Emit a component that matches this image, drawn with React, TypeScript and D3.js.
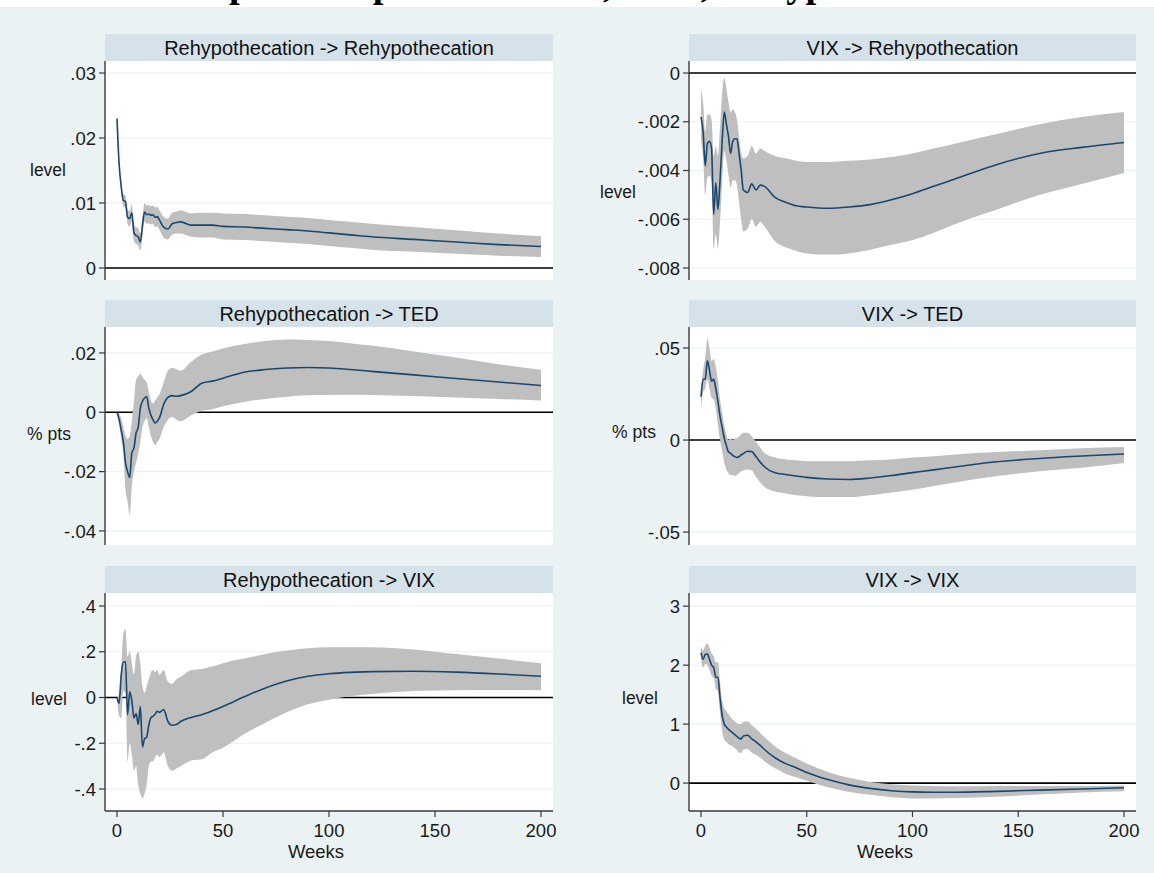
import React from "react";
import * as d3 from "d3";

// forecast horizon (weeks)
const weeks = [0, 1, 2, 3, 4, 5, 6, 7, 8, 9, 10, 11, 12, 13, 14, 15, 16, 17, 18, 19, 20,
  22, 24, 26, 28, 30, 35, 40, 45, 50, 60, 70, 80, 90, 100, 110, 120, 140, 160, 180, 200];
const xTicks = [0, 50, 100, 150, 200];

// Rehypothecation -> Rehypothecation
const rrIrf = [0.023, 0.016, 0.0125, 0.0104, 0.0102, 0.0078, 0.0076, 0.0085, 0.0054, 0.005, 0.0048, 0.004, 0.0065, 0.0086, 0.0082, 0.0083, 0.0081, 0.0082, 0.0078, 0.0079, 0.0074,
  0.0063, 0.006, 0.0068, 0.007, 0.0071, 0.0066, 0.0066, 0.0066, 0.0064, 0.0063, 0.0061, 0.0059, 0.0057, 0.0054, 0.0051, 0.0048, 0.0044, 0.004, 0.0036, 0.0033];
const rrHi = [0.0232, 0.0165, 0.0132, 0.0113, 0.0112, 0.0089, 0.0088, 0.0098, 0.0067, 0.0063, 0.0061, 0.0053, 0.0079, 0.01, 0.0096, 0.0097, 0.0095, 0.0096, 0.0093, 0.0094, 0.0089,
  0.0079, 0.0076, 0.0085, 0.0087, 0.0089, 0.0084, 0.0085, 0.0085, 0.0084, 0.0083, 0.0081, 0.0079, 0.0077, 0.0074, 0.0071, 0.0068, 0.0063, 0.0058, 0.0053, 0.0049];
const rrLo = [0.0228, 0.0155, 0.0118, 0.0095, 0.0092, 0.0067, 0.0064, 0.0072, 0.0041, 0.0037, 0.0035, 0.0027, 0.0051, 0.0072, 0.0068, 0.0069, 0.0067, 0.0068, 0.0063, 0.0064, 0.0059,
  0.0047, 0.0044, 0.0051, 0.0053, 0.0053, 0.0048, 0.0047, 0.0047, 0.0044, 0.0043, 0.0041, 0.0039, 0.0037, 0.0034, 0.0031, 0.0028, 0.0025, 0.0022, 0.0019, 0.0017];
const rrTicks = [0, 0.01, 0.02, 0.03];

// VIX -> Rehypothecation
const vrIrf = [-0.0018, -0.0024, -0.0038, -0.0029, -0.0028, -0.0031, -0.0058, -0.0045, -0.0056, -0.0044, -0.0028, -0.0016, -0.0021, -0.0026, -0.0033, -0.0028, -0.0027, -0.0027, -0.0033, -0.004, -0.0048,
  -0.0049, -0.00455, -0.0048, -0.0046, -0.00465, -0.0051, -0.0053, -0.00545, -0.0055, -0.00555, -0.0055, -0.0054, -0.0052, -0.00495, -0.00465, -0.00435, -0.00375, -0.0033, -0.00305, -0.00285];
const vrHi = [-0.0007, -0.0012, -0.0024, -0.0017, -0.0017, -0.0019, -0.0034, -0.003, -0.0034, -0.0022, -0.0008, -0.0002, -0.0006, -0.0012, -0.0016, -0.0015, -0.0016, -0.0019, -0.0026, -0.0033, -0.0035,
  -0.0034, -0.003, -0.0033, -0.0031, -0.0032, -0.0034, -0.0035, -0.0036, -0.00365, -0.00365, -0.0036, -0.00355, -0.00345, -0.0033, -0.0031, -0.0029, -0.0025, -0.0021, -0.0018, -0.0016];
const vrLo = [-0.0028, -0.0035, -0.005, -0.0043, -0.0042, -0.0045, -0.0072, -0.0066, -0.0072, -0.0061, -0.0045, -0.0032, -0.0036, -0.0042, -0.0047, -0.0044, -0.0044, -0.0046, -0.0053, -0.006, -0.0065,
  -0.0064, -0.006, -0.0063, -0.0061, -0.0063, -0.0069, -0.00715, -0.0073, -0.0074, -0.00745, -0.0074, -0.00725, -0.00705, -0.00685, -0.00655, -0.0062, -0.0056, -0.005, -0.00455, -0.0041];
const vrTicks = [-0.008, -0.006, -0.004, -0.002, 0];

// Rehypothecation -> TED
const rtIrf = [0, -0.0024, -0.006, -0.01, -0.017, -0.02, -0.022, -0.0136, -0.012, -0.007, -0.005, 0.0014, 0.0037, 0.0048, 0.0053, 0.0015, -0.001, -0.0025, -0.0036, -0.003, -0.0019,
  0.0026, 0.005, 0.0056, 0.0054, 0.0056, 0.007, 0.0098, 0.0105, 0.0115, 0.0135, 0.0144, 0.0149, 0.0151, 0.0149, 0.0144, 0.0138, 0.0126, 0.0114, 0.0102, 0.009];
const rtHi = [0, -0.0005, -0.002, -0.005, -0.008, -0.009, -0.008, -0.003, 0.004, 0.011, 0.012, 0.013, 0.012, 0.011, 0.01, 0.007, 0.004, 0.003, 0.004, 0.005, 0.006,
  0.01, 0.014, 0.015, 0.0145, 0.014, 0.017, 0.0195, 0.0205, 0.0215, 0.023, 0.024, 0.0245, 0.0244, 0.024, 0.0233, 0.0225, 0.0205, 0.0185, 0.0162, 0.0143];
const rtLo = [0, -0.004, -0.009, -0.014, -0.026, -0.03, -0.0345, -0.025, -0.02, -0.017, -0.014, -0.01, -0.005, -0.003, -0.002, -0.005, -0.008, -0.01, -0.011, -0.01, -0.009,
  -0.005, -0.0025, -0.0015, -0.0025, -0.003, -0.001, 0.0005, 0.001, 0.002, 0.0035, 0.0045, 0.0052, 0.0057, 0.0058, 0.0059, 0.0058, 0.0055, 0.005, 0.0045, 0.004];
const rtTicks = [-0.04, -0.02, 0, 0.02];

// VIX -> TED
const vtIrf = [0.0235, 0.033, 0.033, 0.043, 0.038, 0.032, 0.033, 0.028, 0.021, 0.013, 0.007, 0.001, -0.003, -0.0065, -0.0072, -0.0083, -0.009, -0.0095, -0.009, -0.0081, -0.0073,
  -0.0061, -0.0063, -0.009, -0.012, -0.0145, -0.0178, -0.0187, -0.0195, -0.0203, -0.0212, -0.0214, -0.0206, -0.0193, -0.0177, -0.0162, -0.0146, -0.0118, -0.01, -0.0087, -0.0076];
const vtHi = [0.028, 0.038, 0.045, 0.055, 0.05, 0.043, 0.044, 0.04, 0.032, 0.022, 0.015, 0.008, 0.003, 0, 0.001, 0, 0.001, 0.001, 0.002, 0.003, 0.004,
  0.004, 0.002, -0.001, -0.004, -0.007, -0.0095, -0.0105, -0.011, -0.0115, -0.0115, -0.0115, -0.011, -0.0105, -0.0095, -0.0088, -0.0078, -0.0065, -0.0055, -0.0045, -0.0038];
const vtLo = [0.017, 0.026, 0.028, 0.033, 0.028, 0.023, 0.022, 0.017, 0.008, 0, -0.006, -0.012, -0.016, -0.018, -0.019, -0.019, -0.0195, -0.019, -0.018, -0.017, -0.0165,
  -0.016, -0.0165, -0.02, -0.023, -0.0255, -0.028, -0.029, -0.03, -0.0305, -0.031, -0.031, -0.03, -0.0285, -0.027, -0.025, -0.023, -0.0195, -0.017, -0.015, -0.0125];
const vtTicks = [-0.05, 0, 0.05];

// Rehypothecation -> VIX
const rvIrf = [0, -0.025, 0.1, 0.155, 0.156, -0.075, 0.025, -0.015, -0.09, -0.07, -0.118, -0.04, -0.216, -0.18, -0.173, -0.12, -0.089, -0.082, -0.072, -0.06, -0.065,
  -0.053, -0.104, -0.121, -0.118, -0.105, -0.087, -0.075, -0.058, -0.039, 0.003, 0.042, 0.072, 0.093, 0.104, 0.11, 0.113, 0.115, 0.111, 0.103, 0.093];
const rvHi = [0, 0.02, 0.13, 0.28, 0.3, 0.18, 0.2, 0.15, 0.1, 0.18, 0.2, 0.15, 0.05, 0.02, 0.05, 0.08, 0.11, 0.12, 0.11, 0.12, 0.1,
  0.12, 0.07, 0.06, 0.08, 0.09, 0.12, 0.125, 0.135, 0.15, 0.17, 0.19, 0.205, 0.215, 0.22, 0.22, 0.22, 0.21, 0.19, 0.17, 0.15];
const rvLo = [0, -0.08, -0.09, 0.03, 0.02, -0.28, -0.2, -0.25, -0.32, -0.3, -0.38, -0.42, -0.44, -0.42, -0.38, -0.3, -0.28, -0.28, -0.26, -0.25, -0.26,
  -0.24, -0.3, -0.32, -0.31, -0.3, -0.275, -0.27, -0.24, -0.22, -0.16, -0.11, -0.065, -0.03, -0.01, 0.005, 0.015, 0.028, 0.032, 0.033, 0.032];
const rvTicks = [-0.4, -0.2, 0, 0.2, 0.4];

// VIX -> VIX
const vvIrf = [2.21, 2.1, 2.18, 2.19, 2.1, 2.0, 1.96, 1.8, 1.79, 1.45, 1.15, 1.0, 0.95, 0.91, 0.88, 0.85, 0.82, 0.79, 0.76, 0.75, 0.8,
  0.81, 0.75, 0.7, 0.64, 0.57, 0.43, 0.33, 0.26, 0.18, 0.06, -0.03, -0.09, -0.13, -0.15, -0.155, -0.155, -0.14, -0.12, -0.1, -0.08];
const vvHi = [2.32, 2.25, 2.33, 2.37, 2.3, 2.2, 2.15, 2.05, 2.05, 1.72, 1.4, 1.27, 1.22, 1.17, 1.12, 1.08, 1.05, 1.02, 1.0, 1.0, 1.04,
  1.05, 0.98, 0.92, 0.85, 0.78, 0.62, 0.51, 0.42, 0.33, 0.19, 0.09, 0.02, -0.02, -0.04, -0.05, -0.055, -0.05, -0.05, -0.05, -0.04];
const vvLo = [2.1, 1.96, 2.02, 2.0, 1.92, 1.82, 1.78, 1.6, 1.56, 1.2, 0.88, 0.74, 0.7, 0.66, 0.64, 0.62, 0.59, 0.56, 0.52, 0.51, 0.57,
  0.58, 0.52, 0.48, 0.43, 0.37, 0.25, 0.16, 0.1, 0.04, -0.07, -0.15, -0.2, -0.24, -0.26, -0.26, -0.255, -0.23, -0.195, -0.16, -0.14];
const vvTicks = [0, 1, 2, 3];

const W = 1154;
const H = 873;
const FONT = "'Liberation Sans', Arial, Helvetica, sans-serif";
const BG = "#eaf2f3";
const STRIP = "#d6e2e9";
const BAND = "#bfbfbf";
const NAVY = "#1a476f";

const cols = [
  { left: 105, right: 553, weeksX: 316 },
  { left: 689, right: 1136, weeksX: 885 },
];
const rows = [
  { top: 61, bottom: 280 },
  { top: 327, bottom: 545 },
  { top: 593, bottom: 811 },
];
const STRIP_H = 27;
const PAD = 12;

const panels = [
  { title: "Rehypothecation -> Rehypothecation", irf: rrIrf, lo: rrLo, hi: rrHi, ticks: rrTicks, domain: [0, 0.03], ytitle: "level", tpos: [48, 170], col: 0, row: 0 },
  { title: "VIX -> Rehypothecation", irf: vrIrf, lo: vrLo, hi: vrHi, ticks: vrTicks, domain: [-0.008, 0], ytitle: "level", tpos: [618, 192], col: 1, row: 0 },
  { title: "Rehypothecation -> TED", irf: rtIrf, lo: rtLo, hi: rtHi, ticks: rtTicks, domain: [-0.0407, 0.0247], ytitle: "% pts", tpos: [49, 434], col: 0, row: 1 },
  { title: "VIX -> TED", irf: vtIrf, lo: vtLo, hi: vtHi, ticks: vtTicks, domain: [-0.0505, 0.0549], ytitle: "% pts", tpos: [634, 432], col: 1, row: 1 },
  { title: "Rehypothecation -> VIX", irf: rvIrf, lo: rvLo, hi: rvHi, ticks: rvTicks, domain: [-0.4437, 0.4044], ytitle: "level", tpos: [49, 699], col: 0, row: 2 },
  { title: "VIX -> VIX", irf: vvIrf, lo: vvLo, hi: vvHi, ticks: vvTicks, domain: [-0.27, 3.02], ytitle: "level", tpos: [640, 698], col: 1, row: 2 },
];

// Stata style labels: .03, -.002, 0
const fmt = (v: number) => (v === 0 ? "0" : String(v).replace("0.", "."));

function Panel({ p }: { p: (typeof panels)[number] }) {
  const c = cols[p.col];
  const r = rows[p.row];
  const x = d3.scaleLinear().domain([0, 200]).range([c.left + PAD, c.right - PAD]);
  const y = d3.scaleLinear().domain(p.domain).range([r.bottom - PAD, r.top + PAD]);

  const band = d3
    .area<number>()
    .x((_, i) => x(weeks[i]))
    .y0((_, i) => y(p.lo[i]))
    .y1((_, i) => y(p.hi[i]))
    .curve(d3.curveMonotoneX);
  const line = d3
    .line<number>()
    .x((_, i) => x(weeks[i]))
    .y((d) => y(d))
    .curve(d3.curveMonotoneX);

  const bottomRow = p.row === rows.length - 1;

  return (
    <g>
      {/* subtitle strip */}
      <rect x={c.left} y={r.top - STRIP_H} width={c.right - c.left} height={STRIP_H} fill={STRIP} />
      <text x={(c.left + c.right) / 2} y={r.top - STRIP_H / 2} dy="0.36em" textAnchor="middle" fontSize={20} fill="#111">
        {p.title}
      </text>
      {/* plot region */}
      <rect x={c.left} y={r.top} width={c.right - c.left} height={r.bottom - r.top} fill="#fff" />
      {p.ticks.map((t) => (
        <line key={"g" + t} x1={c.left} x2={c.right} y1={y(t)} y2={y(t)} stroke={BG} strokeWidth={1.2} />
      ))}
      <line x1={c.left} x2={c.right} y1={y(0)} y2={y(0)} stroke="#000" strokeWidth={1.6} />
      <path d={band(p.irf) ?? ""} fill={BAND} />
      <path d={line(p.irf) ?? ""} fill="none" stroke={NAVY} strokeWidth={1.6} />
      {/* y axis */}
      <line x1={c.left} x2={c.left} y1={r.top} y2={r.bottom} stroke="#3a3a3a" strokeWidth={1.4} />
      {p.ticks.map((t) => (
        <g key={"t" + t}>
          <line x1={c.left - 6} x2={c.left} y1={y(t)} y2={y(t)} stroke="#3a3a3a" strokeWidth={1.2} />
          <text x={c.left - 9} y={y(t)} dy="0.36em" textAnchor="end" fontSize={18.5} fill="#1a1a1a">
            {fmt(t)}
          </text>
        </g>
      ))}
      <text x={p.tpos[0]} y={p.tpos[1]} dy="0.36em" textAnchor="middle" fontSize={17.5} fill="#1a1a1a">
        {p.ytitle}
      </text>
      {/* x axis only under the bottom row */}
      {bottomRow && (
        <g>
          <line x1={c.left} x2={c.right} y1={r.bottom} y2={r.bottom} stroke="#3a3a3a" strokeWidth={1.4} />
          {xTicks.map((t) => (
            <g key={"x" + t}>
              <line x1={x(t)} x2={x(t)} y1={r.bottom} y2={r.bottom + 6} stroke="#3a3a3a" strokeWidth={1.2} />
              <text x={x(t)} y={r.bottom + 26} textAnchor="middle" fontSize={18.5} fill="#1a1a1a">
                {t}
              </text>
            </g>
          ))}
          <text x={c.weeksX} y={r.bottom + 47} textAnchor="middle" fontSize={18.5} fill="#1a1a1a">
            Weeks
          </text>
        </g>
      )}
    </g>
  );
}

export default function App() {
  return (
    <div style={{ position: "absolute", left: 0, top: 0 }}>
      <svg width={W} height={H} style={{ display: "block", fontFamily: FONT }}>
        <rect x={0} y={0} width={W} height={H} fill="#fff" />
        <text x={182} y={-3} fontFamily="'Liberation Serif', 'Times New Roman', serif" fontWeight="bold" fontSize={38.5} fill="#000">
          Impulse responses of VIX, TED, Rehypothecation
        </text>
        <rect x={0} y={7} width={W} height={H - 7} fill={BG} />
        {panels.map((p) => (
          <Panel key={p.title} p={p} />
        ))}
      </svg>
    </div>
  );
}
